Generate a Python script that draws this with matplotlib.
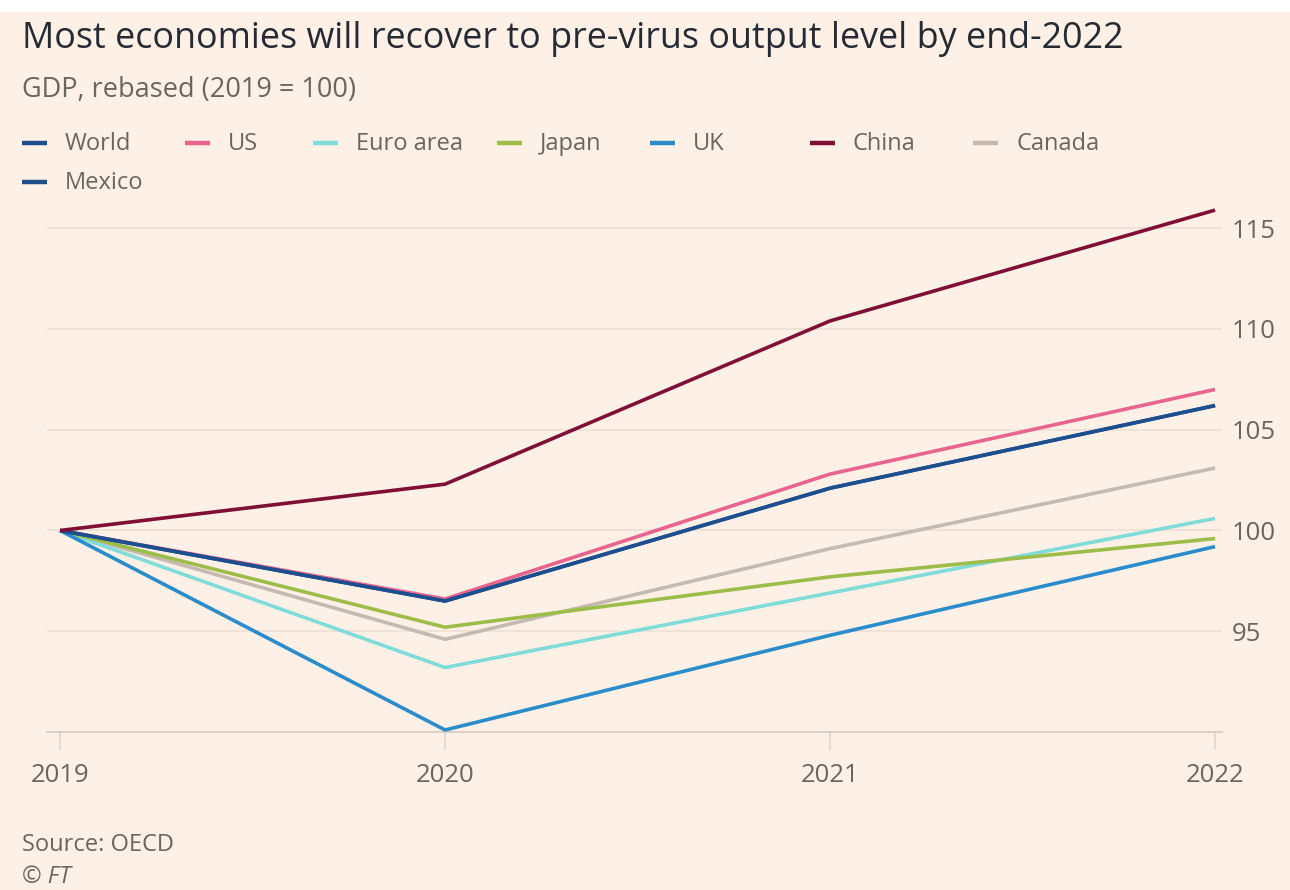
import matplotlib
matplotlib.use("Agg")
import matplotlib.pyplot as plt
from matplotlib.lines import Line2D
from matplotlib.patches import Rectangle

# ---- data ----
years = [2019, 2020, 2021, 2022]
series_names = ["World", "US", "Euro area", "Japan", "UK", "China", "Canada", "Mexico"]
world = [100, 96.5, 102.1, 106.2]
us = [100, 96.6, 102.8, 107.0]
euro_area = [100, 93.2, 96.9, 100.6]
japan = [100, 95.2, 97.7, 99.6]
uk = [100, 90.1, 94.8, 99.2]
china = [100, 102.3, 110.4, 115.9]
canada = [100, 94.6, 99.1, 103.1]
mexico = [100, 96.5, 102.1, 106.2]
y_ticks = [95, 100, 105, 110, 115]
x_ticks = [2019, 2020, 2021, 2022]

values = {
    "World": world, "US": us, "Euro area": euro_area, "Japan": japan,
    "UK": uk, "China": china, "Canada": canada, "Mexico": mexico,
}
colors = {
    "World": "#1d4f8f", "US": "#e8648f", "Euro area": "#7fdcd9",
    "Japan": "#9dbd4a", "UK": "#2a8cca", "China": "#800f35",
    "Canada": "#c5bab1", "Mexico": "#1d4f8f",
}
draw_order = ["Canada", "Euro area", "Japan", "UK", "US", "Mexico", "World", "China"]

BG = "#fdf0e6"
plt.rcParams["font.family"] = ["Open Sans", "DejaVu Sans"]

W, H = 1290, 890
fig = plt.figure(figsize=(W / 100, H / 100), dpi=100, facecolor=BG)

def fx(px):
    return px / W

def fy(py):
    return 1 - py / H

# white strip at very top (as in the reference image)
fig.patches.append(Rectangle((0, fy(12)), 1, 12 / H, transform=fig.transFigure,
                             facecolor="white", edgecolor="none", zorder=0))

left, right = 47, 1222
bottom, top = 732, 198
ax = fig.add_axes([fx(left), fy(bottom), fx(right - left), (bottom - top) / H])
ax.set_facecolor(BG)

for name in draw_order:
    ax.plot(years, values[name], color=colors[name], lw=2.6,
            solid_capstyle="butt", solid_joinstyle="miter", zorder=3)

ax.set_xlim(2018.966, 2022.018)
ax.set_ylim(90, 116.5)

for s in ["top", "right", "left"]:
    ax.spines[s].set_visible(False)
ax.spines["bottom"].set_color("#d6cac0")
ax.spines["bottom"].set_linewidth(1.2)

ax.set_yticks(y_ticks)
ax.set_yticklabels([str(v) for v in y_ticks])
ax.yaxis.tick_right()
ax.tick_params(axis="y", length=0, pad=7, labelsize=18.5, labelcolor="#6b6560")
ax.grid(axis="y", color="#eee0d4", lw=1.2, zorder=1)
ax.set_axisbelow(True)

ax.set_xticks(x_ticks)
ax.set_xticklabels([str(v) for v in x_ticks])
ax.tick_params(axis="x", length=13, width=1.2, color="#e3d7cc", direction="out",
               pad=9, labelsize=18.5, labelcolor="#6b6560")

# title & subtitle
fig.text(fx(22), fy(39), "Most economies will recover to pre-virus output level by end-2022",
         fontsize=25.8, color="#262a33", va="center", ha="left")
fig.text(fx(22), fy(90), "GDP, rebased (2019 = 100)",
         fontsize=19.5, color="#6b6560", va="center", ha="left")

# legend (manual, row-major like the reference)
legend_pos = [(22, 143), (185, 143), (313, 143), (497, 143), (650, 143),
              (810, 143), (973, 143), (22, 182)]
for name, (lx, ly) in zip(series_names, legend_pos):
    fig.add_artist(Line2D([fx(lx), fx(lx + 25)], [fy(ly), fy(ly)],
                          transform=fig.transFigure, color=colors[name], lw=3.2,
                          solid_capstyle="butt"))
    fig.text(fx(lx + 43), fy(ly + 1), name, fontsize=17, color="#6b6560",
             va="center", ha="left")

# footer
fig.text(fx(22), fy(845), "Source: OECD", fontsize=17, color="#6b6560",
         va="center", ha="left")
fig.text(fx(22), fy(877), "© FT", fontsize=17, color="#6b6560",
         va="center", ha="left", style="italic")

fig.savefig("out.png", dpi=100, facecolor=BG)
